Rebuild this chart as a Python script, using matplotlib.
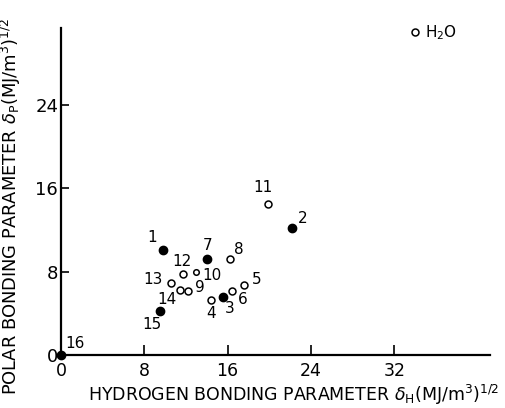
import matplotlib
matplotlib.use("Agg")
import matplotlib.pyplot as plt

plt.rcParams['font.family'] = ['DejaVu Sans']
plt.rcParams['mathtext.fontset'] = 'dejavusans'

# data: (label, delta_H, delta_P, filled)
labels = ['1', '2', '3', '4', '5', '6', '7', '8', '9', '10', '11', '12', '13', '14', '15', '16', 'H$_2$O']
dH = [9.8, 22.2, 15.6, 14.4, 17.6, 16.4, 14.0, 16.2, 12.2, 13.0, 19.9, 11.7, 10.6, 11.4, 9.5, 0.0, 34.0]
dP = [10.1, 12.2, 5.6, 5.3, 6.7, 6.15, 9.2, 9.2, 6.15, 8.0, 14.5, 7.8, 6.9, 6.25, 4.2, 0.0, 31.0]
filled = [True, True, True, False, False, False, True, False, False, False, False, False, False, False, True, True, False]
small = [False]*9 + [True] + [False]*7
# label offsets in pixels (style)
offs = [(-11, 12), (11, 9), (6, -12), (0, -14), (12, 6), (11, -9), (1, 14), (9, 10), (12, 3),
        (16, -4), (-5, 16), (-1, 12), (-18, 4), (-13, -10), (-8, -13), (14, 12), (10, 0)]

xticks = [0, 8, 16, 24, 32]
yticks = [0, 8, 16, 24]

fig = plt.figure(figsize=(5.06, 4.08), dpi=100)
ax = fig.add_axes([61/506, 1-355/408, (490-61)/506, (355-28)/408])
ax.set_xlim(0, 41.2)
ax.set_ylim(0, 31.4)

for lab, x, y, f, s, o in zip(labels, dH, dP, filled, small, offs):
    if f:
        ax.plot(x, y, 'o', color='black', markersize=6, clip_on=False, zorder=5)
    else:
        ax.plot(x, y, 'o', markerfacecolor='white', markeredgecolor='black',
                markersize=4 if s else 5, markeredgewidth=1.1, clip_on=False, zorder=5)
    ha = 'left' if lab.startswith('H') else 'center'
    ax.annotate(lab, (x, y), xytext=o, textcoords='offset pixels', ha=ha, va='center',
                fontsize=11, annotation_clip=False)

for side in ['top', 'right']:
    ax.spines[side].set_visible(False)
for side in ['left', 'bottom']:
    ax.spines[side].set_linewidth(1.6)

ax.set_xticks(xticks)
ax.set_yticks(yticks)
ax.set_xticklabels([str(t) for t in xticks])
ax.set_yticklabels([str(t) for t in yticks])
ax.tick_params(axis='x', direction='in', length=7, width=1.2, labelsize=12.5, pad=5)
ax.tick_params(axis='y', direction='in', length=6, width=1.2, labelsize=13, pad=2)

ax.set_xlabel(r'HYDROGEN BONDING PARAMETER $\delta_{\rm H}$(MJ/m$^3$)$^{1/2}$', fontsize=12.5, labelpad=0)
ax.set_ylabel(r'POLAR BONDING PARAMETER $\delta_{\rm P}$(MJ/m$^3$)$^{1/2}$', fontsize=12.9, labelpad=0)
ax.xaxis.set_label_coords(0.543, -0.158)
ax.xaxis.label.set_va('bottom')
ax.yaxis.set_label_coords(-0.088, 0.455)

fig.savefig('out.png', dpi=100)
